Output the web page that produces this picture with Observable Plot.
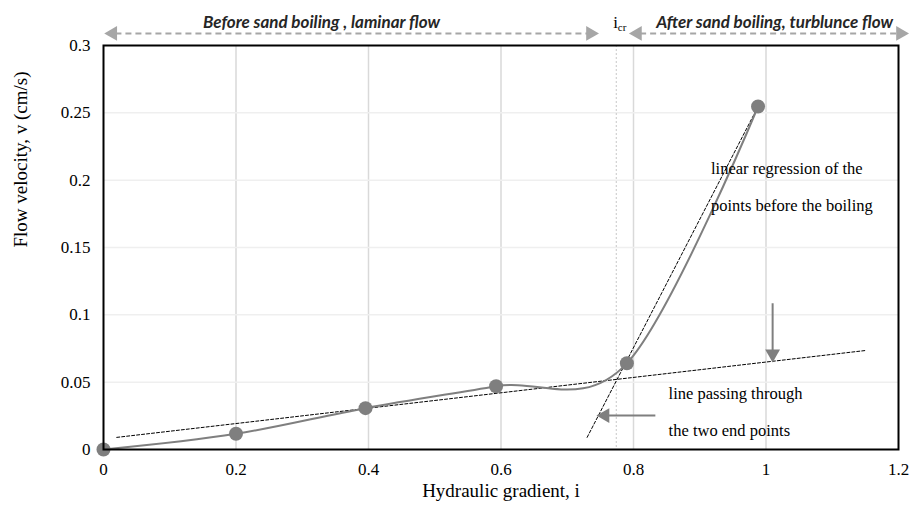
<!DOCTYPE html>
<html>
<head>
<meta charset="utf-8">
<script src="https://cdn.jsdelivr.net/npm/d3@7"></script>
<script src="https://cdn.jsdelivr.net/npm/@observablehq/plot@0.6"></script>
<style>
  html, body { margin: 0; padding: 0; background: #fff; }
  #chart svg { display: block; }
  #chart svg text { font-family: 'Liberation Serif', 'Times New Roman', serif; }
  #chart svg text.regime { font-family: 'Lato', 'Open Sans', sans-serif; }
</style>
</head>
<body>
<div id="chart"></div>
<script>
// Measured points: hydraulic gradient vs. flow velocity
const gradient = [0, 0.2, 0.3955, 0.5926, 0.79, 0.988];
const velocity = [0, 0.0117, 0.0307, 0.047, 0.064, 0.2547];

// Linear regression of the points before boiling (end points of drawn segment)
const regressionX = [0.02, 1.15];
const regressionY = [0.009, 0.0735];

// Line through the two end points (extended down)
const endLineX = [0.73, 0.988];
const endLineY = [0.009, 0.2547];

// Critical hydraulic gradient
const iCritical = 0.774;

// Axis ticks
const xTicks = [0, 0.2, 0.4, 0.6, 0.8, 1, 1.2];
const yTicks = [0, 0.05, 0.1, 0.15, 0.2, 0.25, 0.3];
const xGrid = [0.2, 0.4, 0.6, 0.8, 1];
const yGrid = [0.05, 0.1, 0.15, 0.2, 0.25];

// Regime labels above the plot: arrow span and label centre
const regimeY = 0.309;
const laminarSpan = [0.006, 0.743];
const turbulentSpan = [0.798, 1.211];
const regimeLabelX = [0.329, 1.013];

const points = gradient.map((g, i) => ({g, v: velocity[i]}));
const regression = regressionX.map((x, i) => ({x, y: regressionY[i]}));
const endLine = endLineX.map((x, i) => ({x, y: endLineY[i]}));

const serif = "'Liberation Serif', 'Times New Roman', serif";
const grey = "#7f7f7f";
const arrowGrey = "#a6a6a6";

const regimes = [
  {x1: laminarSpan[0], x2: laminarSpan[1], lx: regimeLabelX[0], label: "Before sand boiling , laminar flow"},
  {x1: turbulentSpan[0], x2: turbulentSpan[1], lx: regimeLabelX[1], label: "After sand boiling, turblunce flow"}
];

const chart = Plot.plot({
  width: 910,
  height: 516,
  marginLeft: 103,
  marginRight: 12,
  marginTop: 45,
  marginBottom: 67,
  x: {domain: [0, 1.2]},
  y: {domain: [0, 0.3]},
  style: {fontFamily: serif, fontSize: "16px", color: "#000", background: "#fff", overflow: "visible"},
  marks: [
    // gridlines
    Plot.ruleX(xGrid, {stroke: "#d9d9d9", strokeWidth: 1.5}),
    Plot.ruleY(yGrid, {stroke: "#efefef", strokeWidth: 1.5}),
    // critical gradient marker
    Plot.ruleX([iCritical], {stroke: "#c8c8c8", strokeWidth: 1, strokeDasharray: "2,2"}),
    // fitted lines
    Plot.line(regression, {x: "x", y: "y", stroke: "#000", strokeWidth: 1, strokeDasharray: "3,2"}),
    Plot.line(endLine, {x: "x", y: "y", stroke: "#000", strokeWidth: 1, strokeDasharray: "3,2"}),
    // smoothed measurement curve and points
    Plot.line(points, {x: "g", y: "v", stroke: grey, strokeWidth: 2, curve: "cardinal", tension: 0}),
    Plot.dot(points, {x: "g", y: "v", r: 7, fill: grey}),
    // plot frame
    Plot.frame({stroke: "#000", strokeWidth: 2}),
    // axes
    Plot.axisX(xTicks, {tickSize: 0, tickPadding: 13, fontSize: 17, fontFamily: serif, label: null, tickFormat: d => String(d)}),
    Plot.axisY(yTicks, {tickSize: 0, tickPadding: 13, fontSize: 17, fontFamily: serif, label: null, tickFormat: d => String(d)}),
    Plot.text(["Flow velocity, v (cm/s)"], {frameAnchor: "left", dx: -83, rotate: -90, fontSize: 19, fontFamily: serif}),
    Plot.text(["Hydraulic gradient, i"], {frameAnchor: "bottom", lineAnchor: "middle", dy: 41, fontSize: 19, fontFamily: serif}),
    // annotations inside the plot
    Plot.text(["linear regression of the", "points before the boiling"], {
      x: 0.917, y: [0.2087, 0.181], text: d => d, textAnchor: "start", fontSize: 16.5, fontFamily: serif
    }),
    Plot.link([{x: 1.01, y1: 0.1086, y2: 0.0725}], {x1: "x", x2: "x", y1: "y1", y2: "y2", stroke: grey, strokeWidth: 2}),
    Plot.dot([{x: 1.01, y: 0.071}], {x: "x", y: "y", symbol: "triangle", r: 5.5, fill: grey, rotate: 180}),
    Plot.text(["line passing through", "the two end points"], {
      x: 0.853, y: [0.0416, 0.0141], text: d => d, textAnchor: "start", fontSize: 16.5, fontFamily: serif
    }),
    Plot.link([{x1: 0.833, x2: 0.758, y: 0.0252}], {x1: "x1", x2: "x2", y1: "y", y2: "y", stroke: grey, strokeWidth: 2}),
    Plot.dot([{x: 0.757, y: 0.0252}], {x: "x", y: "y", symbol: "triangle", r: 5.5, fill: grey, rotate: -90}),
    // regime arrows above the plot
    Plot.link(regimes, {x1: d => d.x1 + 0.012, x2: d => d.x2 - 0.012, y1: regimeY, y2: regimeY, stroke: arrowGrey, strokeWidth: 2, strokeDasharray: "6,4"}),
    Plot.dot(regimes, {x: d => d.x1 + 0.008, y: regimeY, symbol: "triangle", r: 5.5, fill: arrowGrey, rotate: -90}),
    Plot.dot(regimes, {x: d => d.x2 - 0.008, y: regimeY, symbol: "triangle", r: 5.5, fill: arrowGrey, rotate: 90}),
    Plot.text(regimes, {x: "lx", y: regimeY, dy: -11, text: "label", fontFamily: "Lato, sans-serif", fontWeight: "bold", fontStyle: "italic", fontSize: 17, fill: "#262626"})
  ]
});

// critical gradient label with subscript
const svg = d3.select(chart);
const xs = chart.scale("x"), ys = chart.scale("y");
const lab = svg.append("text")
  .attr("x", xs.apply(iCritical) + 4)
  .attr("y", ys.apply(regimeY) - 5)
  .attr("text-anchor", "middle")
  .attr("font-size", 17);
lab.append("tspan").text("i");
lab.append("tspan").attr("font-size", 11).attr("dy", 3).text("cr");

// regime labels use a sans-serif face
svg.selectAll("text").filter(function() { return regimes.some(r => r.label === this.textContent); })
  .attr("class", "regime");

document.getElementById("chart").appendChild(chart);
</script>
</body>
</html>
